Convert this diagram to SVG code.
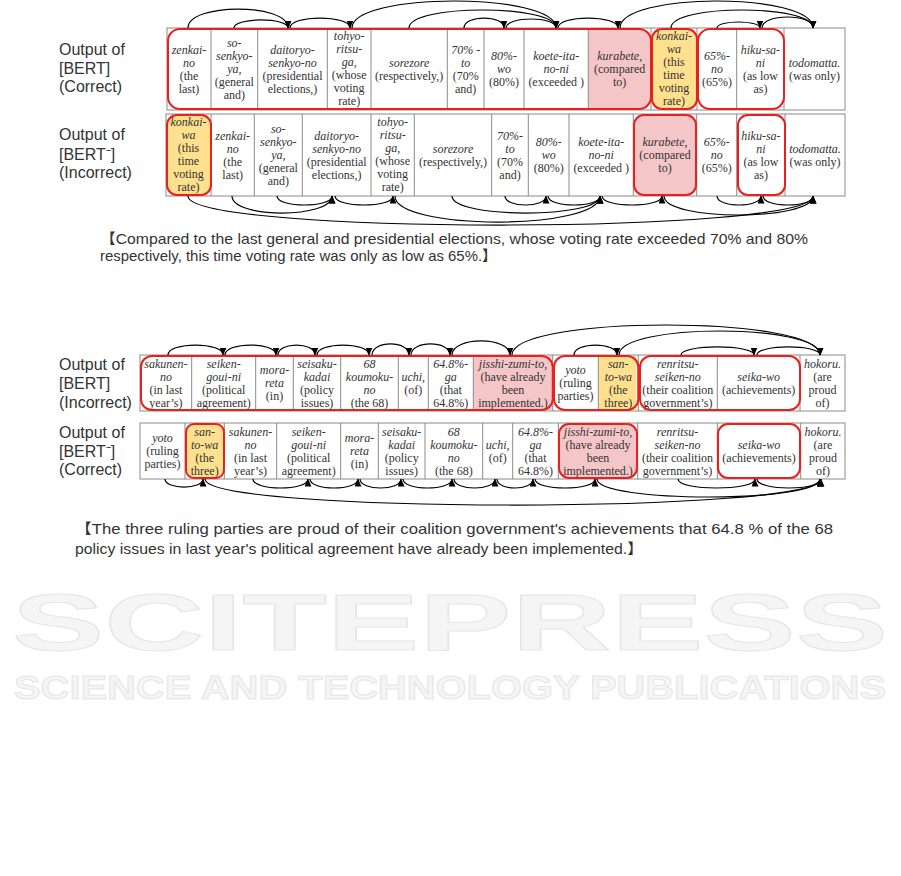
<svg xmlns="http://www.w3.org/2000/svg" width="901" height="876" viewBox="0 0 901 876">
<defs>
<marker id="ah" markerUnits="userSpaceOnUse" markerWidth="8" markerHeight="7" refX="7.5" refY="3.5" orient="auto">
<path d="M0,0 L8,3.5 L0,7 z" fill="#000"/>
</marker>
<style>
.lbl{font-family:"Liberation Sans",Arial,sans-serif;font-size:16px;fill:#333}
.t{font-family:"Liberation Serif","Times New Roman",serif;font-size:12px;fill:#333;text-anchor:middle}
.i{font-style:italic}
.tbl{fill:#fff;stroke:#8a8a8a;stroke-width:1}
.div{stroke:#8a8a8a;stroke-width:1}
.pink{fill:#F4C6C8}
.yel{fill:#FFE08F}
.red{fill:none;stroke:#E8201E;stroke-width:2}
.arc{fill:none;stroke:#000;stroke-width:1.2;marker-end:url(#ah)}
.cap{font-family:"Liberation Sans","Noto Sans CJK JP",sans-serif;font-size:14.5px;fill:#333}
.wm{font-family:"Liberation Sans",Arial,sans-serif;font-weight:bold;fill:#f5f5f5;stroke:#e6e6e6;stroke-width:1}
</style>
</defs>

<!-- watermark -->
<g id="watermark">
<text class="wm" x="12" y="650" font-size="80" textLength="876" lengthAdjust="spacingAndGlyphs">SCITEPRESS</text>
<text class="wm" x="14" y="699" font-size="34" textLength="872" lengthAdjust="spacingAndGlyphs">SCIENCE AND TECHNOLOGY PUBLICATIONS</text>
</g>

<!-- row labels -->
<g id="label-top-bert">
<text class="lbl" x="59" y="55">Output of</text>
<text class="lbl" x="59" y="74">[BERT]</text>
<text class="lbl" x="59" y="92">(Correct)</text>
</g>
<g id="label-top-bertm">
<text class="lbl" x="59" y="140">Output of</text>
<text class="lbl" x="59" y="160">[BERT⁻]</text>
<text class="lbl" x="59" y="178">(Incorrect)</text>
</g>
<g id="label-bot-bert">
<text class="lbl" x="59" y="370">Output of</text>
<text class="lbl" x="59" y="389">[BERT]</text>
<text class="lbl" x="59" y="408">(Incorrect)</text>
</g>
<g id="label-bot-bertm">
<text class="lbl" x="59" y="438">Output of</text>
<text class="lbl" x="59" y="457">[BERT⁻]</text>
<text class="lbl" x="59" y="475">(Correct)</text>
</g>

<!-- ===== Top example, row 1 ===== -->
<g id="t1-table">
<rect class="tbl" x="167" y="28" width="678" height="82"/>
<path class="pink" d="M588.3,28 H639 A12,12 0 0 1 651,40 V98 A12,12 0 0 1 639,110 H588.3 Z"/>
<rect class="yel" x="652" y="28" width="45" height="82" rx="10"/>
<path class="div" d="M211,28V110 M257.7,28V110 M327.3,28V110 M371,28V110 M447.3,28V110 M484,28V110 M524,28V110 M588.3,28V110 M651,28V110 M697,28V110 M736.7,28V110 M784,28V110"/>
</g>
<g id="t1-c1"><text class="t" x="189" y="53.5"><tspan class="i" x="189">zenkai-</tspan><tspan class="i" x="189" dy="13">no</tspan><tspan x="189" dy="13">(the</tspan><tspan x="189" dy="13">last)</tspan></text></g>
<g id="t1-c2"><text class="t" x="234.3" y="47"><tspan class="i" x="234.3">so-</tspan><tspan class="i" x="234.3" dy="13">senkyo-</tspan><tspan class="i" x="234.3" dy="13">ya,</tspan><tspan x="234.3" dy="13">(general</tspan><tspan x="234.3" dy="13">and)</tspan></text></g>
<g id="t1-c3"><text class="t" x="292.5" y="53.5"><tspan class="i" x="292.5">daitoryo-</tspan><tspan class="i" x="292.5" dy="13">senkyo-no</tspan><tspan x="292.5" dy="13">(presidential</tspan><tspan x="292.5" dy="13">elections,)</tspan></text></g>
<g id="t1-c4"><text class="t" x="349.2" y="39.5"><tspan class="i" x="349.2">tohyo-</tspan><tspan class="i" x="349.2" dy="13">ritsu-</tspan><tspan class="i" x="349.2" dy="13">ga,</tspan><tspan x="349.2" dy="13">(whose</tspan><tspan x="349.2" dy="13">voting</tspan><tspan x="349.2" dy="13">rate)</tspan></text></g>
<g id="t1-c5"><text class="t" x="409.2" y="66.5"><tspan class="i" x="409.2">sorezore</tspan><tspan x="409.2" dy="13">(respectively,)</tspan></text></g>
<g id="t1-c6"><text class="t" x="465.7" y="53.5"><tspan class="i" x="465.7">70% -</tspan><tspan class="i" x="465.7" dy="13">to</tspan><tspan x="465.7" dy="13">(70%</tspan><tspan x="465.7" dy="13">and)</tspan></text></g>
<g id="t1-c7"><text class="t" x="504" y="60"><tspan class="i" x="504">80%-</tspan><tspan class="i" x="504" dy="13">wo</tspan><tspan x="504" dy="13">(80%)</tspan></text></g>
<g id="t1-c8"><text class="t" x="556.2" y="60"><tspan class="i" x="556.2">koete-ita-</tspan><tspan class="i" x="556.2" dy="13">no-ni</tspan><tspan x="556.2" dy="13">(exceeded )</tspan></text></g>
<g id="t1-c9"><text class="t" x="619.7" y="60"><tspan class="i" x="619.7">kurabete,</tspan><tspan x="619.7" dy="13">(compared</tspan><tspan x="619.7" dy="13">to)</tspan></text></g>
<g id="t1-c10"><text class="t" x="674" y="39.5"><tspan class="i" x="674">konkai-</tspan><tspan class="i" x="674" dy="13">wa</tspan><tspan x="674" dy="13">(this</tspan><tspan x="674" dy="13">time</tspan><tspan x="674" dy="13">voting</tspan><tspan x="674" dy="13">rate)</tspan></text></g>
<g id="t1-c11"><text class="t" x="716.9" y="60"><tspan class="i" x="716.9">65%-</tspan><tspan class="i" x="716.9" dy="13">no</tspan><tspan x="716.9" dy="13">(65%)</tspan></text></g>
<g id="t1-c12"><text class="t" x="760.4" y="53.5"><tspan class="i" x="760.4">hiku-sa-</tspan><tspan class="i" x="760.4" dy="13">ni</tspan><tspan x="760.4" dy="13">(as low</tspan><tspan x="760.4" dy="13">as)</tspan></text></g>
<g id="t1-c13"><text class="t" x="814.5" y="66.5"><tspan class="i" x="814.5">todomatta.</tspan><tspan x="814.5" dy="13">(was only)</tspan></text></g>
<g id="t1-highlights">
<rect class="red" x="168" y="29" width="483" height="80" rx="12"/>
<rect class="red" x="652" y="29" width="45" height="80" rx="10"/>
<rect class="red" x="698" y="29" width="86" height="80" rx="12"/>
</g>

<!-- ===== Top example, row 2 ===== -->
<g id="t2-table">
<rect class="tbl" x="166" y="114" width="679" height="82"/>
<rect class="yel" x="167" y="115" width="44" height="80" rx="10"/>
<rect class="pink" x="634" y="115" width="62" height="80" rx="10"/>
<path class="div" d="M211,114V196 M254.3,114V196 M302.3,114V196 M371,114V196 M414.3,114V196 M491.7,114V196 M528.3,114V196 M569,114V196 M633.3,114V196 M696.7,114V196 M736.7,114V196 M785,114V196"/>
</g>
<g id="t2-c1"><text class="t" x="188.5" y="125.5"><tspan class="i" x="188.5">konkai-</tspan><tspan class="i" x="188.5" dy="13">wa</tspan><tspan x="188.5" dy="13">(this</tspan><tspan x="188.5" dy="13">time</tspan><tspan x="188.5" dy="13">voting</tspan><tspan x="188.5" dy="13">rate)</tspan></text></g>
<g id="t2-c2"><text class="t" x="232.7" y="139.5"><tspan class="i" x="232.7">zenkai-</tspan><tspan class="i" x="232.7" dy="13">no</tspan><tspan x="232.7" dy="13">(the</tspan><tspan x="232.7" dy="13">last)</tspan></text></g>
<g id="t2-c3"><text class="t" x="278.3" y="133"><tspan class="i" x="278.3">so-</tspan><tspan class="i" x="278.3" dy="13">senkyo-</tspan><tspan class="i" x="278.3" dy="13">ya,</tspan><tspan x="278.3" dy="13">(general</tspan><tspan x="278.3" dy="13">and)</tspan></text></g>
<g id="t2-c4"><text class="t" x="336.7" y="139.5"><tspan class="i" x="336.7">daitoryo-</tspan><tspan class="i" x="336.7" dy="13">senkyo-no</tspan><tspan x="336.7" dy="13">(presidential</tspan><tspan x="336.7" dy="13">elections,)</tspan></text></g>
<g id="t2-c5"><text class="t" x="392.7" y="125.5"><tspan class="i" x="392.7">tohyo-</tspan><tspan class="i" x="392.7" dy="13">ritsu-</tspan><tspan class="i" x="392.7" dy="13">ga,</tspan><tspan x="392.7" dy="13">(whose</tspan><tspan x="392.7" dy="13">voting</tspan><tspan x="392.7" dy="13">rate)</tspan></text></g>
<g id="t2-c6"><text class="t" x="453" y="152.5"><tspan class="i" x="453">sorezore</tspan><tspan x="453" dy="13">(respectively,)</tspan></text></g>
<g id="t2-c7"><text class="t" x="510" y="139.5"><tspan class="i" x="510">70%-</tspan><tspan class="i" x="510" dy="13">to</tspan><tspan x="510" dy="13">(70%</tspan><tspan x="510" dy="13">and)</tspan></text></g>
<g id="t2-c8"><text class="t" x="548.7" y="146"><tspan class="i" x="548.7">80%-</tspan><tspan class="i" x="548.7" dy="13">wo</tspan><tspan x="548.7" dy="13">(80%)</tspan></text></g>
<g id="t2-c9"><text class="t" x="601.2" y="146"><tspan class="i" x="601.2">koete-ita-</tspan><tspan class="i" x="601.2" dy="13">no-ni</tspan><tspan x="601.2" dy="13">(exceeded )</tspan></text></g>
<g id="t2-c10"><text class="t" x="665" y="146"><tspan class="i" x="665">kurabete,</tspan><tspan x="665" dy="13">(compared</tspan><tspan x="665" dy="13">to)</tspan></text></g>
<g id="t2-c11"><text class="t" x="716.7" y="146"><tspan class="i" x="716.7">65%-</tspan><tspan class="i" x="716.7" dy="13">no</tspan><tspan x="716.7" dy="13">(65%)</tspan></text></g>
<g id="t2-c12"><text class="t" x="760.9" y="139.5"><tspan class="i" x="760.9">hiku-sa-</tspan><tspan class="i" x="760.9" dy="13">ni</tspan><tspan x="760.9" dy="13">(as low</tspan><tspan x="760.9" dy="13">as)</tspan></text></g>
<g id="t2-c13"><text class="t" x="815" y="152.5"><tspan class="i" x="815">todomatta.</tspan><tspan x="815" dy="13">(was only)</tspan></text></g>
<g id="t2-highlights">
<rect class="red" x="167" y="115" width="44" height="80" rx="10"/>
<rect class="red" x="634" y="115" width="62" height="80" rx="10"/>
<rect class="red" x="738" y="115" width="47" height="80" rx="10"/>
</g>

<!-- caption 1 -->
<g id="caption-1">
<text class="cap" x="100" y="244" textLength="708" lengthAdjust="spacingAndGlyphs">【Compared to the last general and presidential elections, whose voting rate exceeded 70% and 80%</text>
<text class="cap" x="100" y="261" textLength="397" lengthAdjust="spacingAndGlyphs">respectively, this time voting rate was only as low as 65%.】</text>
</g>

<!-- ===== Bottom example, row 1 ===== -->
<g id="b1-table">
<rect class="tbl" x="140" y="355" width="705" height="56"/>
<rect class="pink" x="473.3" y="356" width="78.4" height="54"/>
<rect class="yel" x="598.3" y="356" width="38" height="54"/>
<path class="div" d="M191.7,355V411 M255.7,355V411 M293.3,355V411 M340.7,355V411 M398.3,355V411 M428.3,355V411 M473.3,355V411 M552.7,355V411 M598.3,355V411 M638.3,355V411 M717.3,355V411 M800,355V411"/>
</g>
<g id="b1-c1"><text class="t" x="165.9" y="367.5"><tspan class="i" x="165.9">sakunen-</tspan><tspan class="i" x="165.9" dy="13">no</tspan><tspan x="165.9" dy="13">(in last</tspan><tspan x="165.9" dy="13">year’s)</tspan></text></g>
<g id="b1-c2"><text class="t" x="223.7" y="367.5"><tspan class="i" x="223.7">seiken-</tspan><tspan class="i" x="223.7" dy="13">goui-ni</tspan><tspan x="223.7" dy="13">(political</tspan><tspan x="223.7" dy="13">agreement)</tspan></text></g>
<g id="b1-c3"><text class="t" x="274.5" y="374"><tspan class="i" x="274.5">mora-</tspan><tspan class="i" x="274.5" dy="13">reta</tspan><tspan x="274.5" dy="13">(in)</tspan></text></g>
<g id="b1-c4"><text class="t" x="317" y="367.5"><tspan class="i" x="317">seisaku-</tspan><tspan class="i" x="317" dy="13">kadai</tspan><tspan x="317" dy="13">(policy</tspan><tspan x="317" dy="13">issues)</tspan></text></g>
<g id="b1-c5"><text class="t" x="369.5" y="367.5"><tspan class="i" x="369.5">68</tspan><tspan class="i" x="369.5" dy="13">koumoku-</tspan><tspan class="i" x="369.5" dy="13">no</tspan><tspan x="369.5" dy="13">(the 68)</tspan></text></g>
<g id="b1-c6"><text class="t" x="413.3" y="380.5"><tspan class="i" x="413.3">uchi,</tspan><tspan x="413.3" dy="13">(of)</tspan></text></g>
<g id="b1-c7"><text class="t" x="450.8" y="367.5"><tspan class="i" x="450.8">64.8%-</tspan><tspan class="i" x="450.8" dy="13">ga</tspan><tspan x="450.8" dy="13">(that</tspan><tspan x="450.8" dy="13">64.8%)</tspan></text></g>
<g id="b1-c8"><text class="t" x="513" y="367.5"><tspan class="i" x="513">jisshi-zumi-to,</tspan><tspan x="513" dy="13">(have already</tspan><tspan x="513" dy="13">been</tspan><tspan x="513" dy="13">implemented.)</tspan></text></g>
<g id="b1-c9"><text class="t" x="575.5" y="374"><tspan class="i" x="575.5">yoto</tspan><tspan x="575.5" dy="13">(ruling</tspan><tspan x="575.5" dy="13">parties)</tspan></text></g>
<g id="b1-c10"><text class="t" x="618.3" y="367.5"><tspan class="i" x="618.3">san-</tspan><tspan class="i" x="618.3" dy="13">to-wa</tspan><tspan x="618.3" dy="13">(the</tspan><tspan x="618.3" dy="13">three)</tspan></text></g>
<g id="b1-c11"><text class="t" x="677.8" y="367.5"><tspan class="i" x="677.8">renritsu-</tspan><tspan class="i" x="677.8" dy="13">seiken-no</tspan><tspan x="677.8" dy="13">(their coalition</tspan><tspan x="677.8" dy="13">government’s)</tspan></text></g>
<g id="b1-c12"><text class="t" x="758.7" y="380.5"><tspan class="i" x="758.7">seika-wo</tspan><tspan x="758.7" dy="13">(achievements)</tspan></text></g>
<g id="b1-c13"><text class="t" x="822.5" y="367.5"><tspan class="i" x="822.5">hokoru.</tspan><tspan x="822.5" dy="13">(are</tspan><tspan x="822.5" dy="13">proud</tspan><tspan x="822.5" dy="13">of)</tspan></text></g>
<g id="b1-highlights">
<rect class="red" x="141" y="356" width="411.7" height="54" rx="11"/>
<rect class="red" x="554" y="356" width="84.3" height="54" rx="11"/>
<rect class="red" x="640" y="356" width="160" height="54" rx="11"/>
</g>

<!-- ===== Bottom example, row 2 ===== -->
<g id="b2-table">
<rect class="tbl" x="140" y="423" width="705" height="56"/>
<rect class="yel" x="186" y="424" width="38" height="54" rx="8"/>
<rect class="pink" x="559" y="424" width="78" height="54" rx="10"/>
<path class="div" d="M185,423V479 M224.3,423V479 M276.7,423V479 M340.7,423V479 M378.3,423V479 M425,423V479 M482.7,423V479 M512.7,423V479 M558.3,423V479 M637.7,423V479 M717.3,423V479 M800.7,423V479"/>
</g>
<g id="b2-c1"><text class="t" x="162.5" y="442"><tspan class="i" x="162.5">yoto</tspan><tspan x="162.5" dy="13">(ruling</tspan><tspan x="162.5" dy="13">parties)</tspan></text></g>
<g id="b2-c2"><text class="t" x="204.7" y="435.5"><tspan class="i" x="204.7">san-</tspan><tspan class="i" x="204.7" dy="13">to-wa</tspan><tspan x="204.7" dy="13">(the</tspan><tspan x="204.7" dy="13">three)</tspan></text></g>
<g id="b2-c3"><text class="t" x="250.5" y="435.5"><tspan class="i" x="250.5">sakunen-</tspan><tspan class="i" x="250.5" dy="13">no</tspan><tspan x="250.5" dy="13">(in last</tspan><tspan x="250.5" dy="13">year’s)</tspan></text></g>
<g id="b2-c4"><text class="t" x="308.7" y="435.5"><tspan class="i" x="308.7">seiken-</tspan><tspan class="i" x="308.7" dy="13">goui-ni</tspan><tspan x="308.7" dy="13">(political</tspan><tspan x="308.7" dy="13">agreement)</tspan></text></g>
<g id="b2-c5"><text class="t" x="359.5" y="442"><tspan class="i" x="359.5">mora-</tspan><tspan class="i" x="359.5" dy="13">reta</tspan><tspan x="359.5" dy="13">(in)</tspan></text></g>
<g id="b2-c6"><text class="t" x="401.7" y="435.5"><tspan class="i" x="401.7">seisaku-</tspan><tspan class="i" x="401.7" dy="13">kadai</tspan><tspan x="401.7" dy="13">(policy</tspan><tspan x="401.7" dy="13">issues)</tspan></text></g>
<g id="b2-c7"><text class="t" x="453.8" y="435.5"><tspan class="i" x="453.8">68</tspan><tspan class="i" x="453.8" dy="13">koumoku-</tspan><tspan class="i" x="453.8" dy="13">no</tspan><tspan x="453.8" dy="13">(the 68)</tspan></text></g>
<g id="b2-c8"><text class="t" x="497.7" y="448.5"><tspan class="i" x="497.7">uchi,</tspan><tspan x="497.7" dy="13">(of)</tspan></text></g>
<g id="b2-c9"><text class="t" x="535.5" y="435.5"><tspan class="i" x="535.5">64.8%-</tspan><tspan class="i" x="535.5" dy="13">ga</tspan><tspan x="535.5" dy="13">(that</tspan><tspan x="535.5" dy="13">64.8%)</tspan></text></g>
<g id="b2-c10"><text class="t" x="598" y="435.5"><tspan class="i" x="598">jisshi-zumi-to,</tspan><tspan x="598" dy="13">(have already</tspan><tspan x="598" dy="13">been</tspan><tspan x="598" dy="13">implemented.)</tspan></text></g>
<g id="b2-c11"><text class="t" x="677.5" y="435.5"><tspan class="i" x="677.5">renritsu-</tspan><tspan class="i" x="677.5" dy="13">seiken-no</tspan><tspan x="677.5" dy="13">(their coalition</tspan><tspan x="677.5" dy="13">government’s)</tspan></text></g>
<g id="b2-c12"><text class="t" x="759" y="448.5"><tspan class="i" x="759">seika-wo</tspan><tspan x="759" dy="13">(achievements)</tspan></text></g>
<g id="b2-c13"><text class="t" x="822.9" y="435.5"><tspan class="i" x="822.9">hokoru.</tspan><tspan x="822.9" dy="13">(are</tspan><tspan x="822.9" dy="13">proud</tspan><tspan x="822.9" dy="13">of)</tspan></text></g>
<g id="b2-highlights">
<rect class="red" x="186" y="424" width="38" height="54" rx="8"/>
<rect class="red" x="559" y="424" width="78" height="54" rx="10"/>
<rect class="red" x="718" y="424" width="82" height="54" rx="10"/>
</g>

<!-- caption 2 -->
<g id="caption-2">
<text class="cap" x="75" y="534" textLength="758" lengthAdjust="spacingAndGlyphs">【The three ruling parties are proud of their coalition government's achievements that 64.8 % of the 68</text>
<text class="cap" x="75" y="554" textLength="568" lengthAdjust="spacingAndGlyphs">policy issues in last year's political agreement have already been implemented.】</text>
</g>

<!-- connectors -->
<g id="connectors">
<!-- top row 1 -->
<path class="arc" d="M188,28 C188,2.7 288,2.7 288,28"/>
<path class="arc" d="M234,28 C234,17.3 288,17.3 288,28"/>
<path class="arc" d="M290,28 C290,14.7 350,14.7 350,28"/>
<path class="arc" d="M352,28 C352,-8 556,-8 556,28"/>
<path class="arc" d="M409,28 C409,4 556,4 556,28"/>
<path class="arc" d="M464,28 C464,14.7 504,14.7 504,28"/>
<path class="arc" d="M506,28 C506,16 556,16 556,28"/>
<path class="arc" d="M558,28 C558,14.7 618,14.7 618,28"/>
<path class="arc" d="M620,28 C620,-8 813,-8 813,28"/>
<path class="arc" d="M671,28 C671,4 813,4 813,28"/>
<path class="arc" d="M717,28 C717,20 760,20 760,28"/>
<path class="arc" d="M762,28 C762,13.3 813,13.3 813,28"/>
<!-- top row 2 -->
<path class="arc" d="M188,196 C188,234.7 813,234.7 813,196"/>
<path class="arc" d="M232,196 C232,218.7 332,218.7 332,196"/>
<path class="arc" d="M277,196 C277,208 332,208 332,196"/>
<path class="arc" d="M335,196 C335,208 393,208 393,196"/>
<path class="arc" d="M395,196 C395,230.7 600,230.7 600,196"/>
<path class="arc" d="M452,196 C452,218.7 600,218.7 600,196"/>
<path class="arc" d="M505,196 C505,208 546,208 546,196"/>
<path class="arc" d="M548,196 C548,208 600,208 600,196"/>
<path class="arc" d="M602,196 C602,208 662,208 662,196"/>
<path class="arc" d="M664,196 C664,221.3 813,221.3 813,196"/>
<path class="arc" d="M717,196 C717,208 761,208 761,196"/>
<path class="arc" d="M763,196 C763,208 813,208 813,196"/>
<!-- bottom row 1 -->
<path class="arc" d="M168,355 C168,341.7 223,341.7 223,355"/>
<path class="arc" d="M225,355 C225,341.7 276,341.7 276,355"/>
<path class="arc" d="M278,355 C278,341.7 315,341.7 315,355"/>
<path class="arc" d="M317,355 C317,341.7 369,341.7 369,355"/>
<path class="arc" d="M372,355 C372,340.3 409,340.3 409,355"/>
<path class="arc" d="M411,355 C411,340.3 450,340.3 450,355"/>
<path class="arc" d="M452,355 C452,336.3 510,336.3 510,355"/>
<path class="arc" d="M512,355 C512,315 820,315 820,355"/>
<path class="arc" d="M574,355 C574,341.7 617,341.7 617,355"/>
<path class="arc" d="M619,355 C619,323 820,323 820,355"/>
<path class="arc" d="M681,355 C681,344.3 754,344.3 754,355"/>
<path class="arc" d="M757,355 C757,344.3 820,344.3 820,355"/>
<!-- bottom row 2 -->
<path class="arc" d="M165,479 C165,489.7 203,489.7 203,479"/>
<path class="arc" d="M205,479 C205,513.7 820,513.7 820,479"/>
<path class="arc" d="M253,479 C253,491 308,491 308,479"/>
<path class="arc" d="M310,479 C310,491 358,491 358,479"/>
<path class="arc" d="M360,479 C360,491 401,491 401,479"/>
<path class="arc" d="M403,479 C403,491 452,491 452,479"/>
<path class="arc" d="M454,479 C454,491 495,491 495,479"/>
<path class="arc" d="M497,479 C497,491 533,491 533,479"/>
<path class="arc" d="M535,479 C535,491 595,491 595,479"/>
<path class="arc" d="M597,479 C597,503 820,503 820,479"/>
<path class="arc" d="M678,479 C678,491 755,491 755,479"/>
<path class="arc" d="M757,479 C757,491 821,491 821,479"/>
</g>
</svg>
